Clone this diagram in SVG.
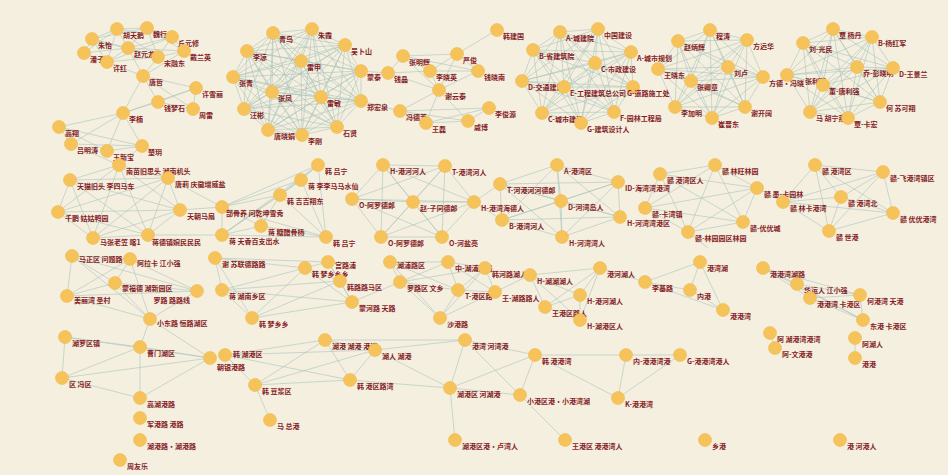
<svg xmlns="http://www.w3.org/2000/svg" width="948" height="475" viewBox="0 0 948 475">
<style>
.bg{fill:#f4efdf}
.n circle{fill:#f6c35a;stroke:#efb84e;stroke-width:0.6}
.n text{font-family:"Noto Sans CJK SC","Noto Sans",sans-serif;font-size:7px;font-weight:bold;fill:#861c26}
.e path{stroke:#a9c4bd;stroke-width:0.7;fill:none;opacity:0.85}
</style>
<rect class="bg" x="0" y="0" width="948" height="475"/>
<g id="connectors" class="e">
<path d="M117 29 147 28M117 29 92 39M117 29 128 48M117 29 172 37M117 29 158 57M117 29 84 53M117 29 107 62M147 28 172 37M147 28 128 48M147 28 158 57M147 28 184 51M147 28 92 39M172 37 184 51M172 37 158 57M172 37 128 48M92 39 84 53M92 39 128 48M92 39 107 62M128 48 84 53M128 48 158 57M128 48 107 62M128 48 184 51M184 51 158 57M84 53 107 62M158 57 107 62M172 37 107 62M92 39 158 57M143 76 128 48M143 76 158 57M143 76 107 62M143 76 184 51M143 76 196 88M143 76 158 102M143 76 193 109M143 76 123 113M196 88 158 102M196 88 193 109M158 102 193 109M158 102 123 113M196 88 123 113M123 113 59 127M123 113 71 144M123 113 107 151M123 113 142 146M59 127 71 144M59 127 107 151M107 151 142 146M71 144 142 146M59 127 142 146M142 146 119 165M71 144 119 165"/>
<path d="M273 33 312 29M273 33 345 45M273 33 247 51M273 33 301 61M273 33 361 71M273 33 233 77M273 33 272 92M273 33 321 97M273 33 361 101M273 33 244 109M273 33 337 127M273 33 268 130M273 33 302 135M312 29 345 45M312 29 247 51M312 29 301 61M312 29 361 71M312 29 233 77M312 29 272 92M312 29 321 97M312 29 361 101M312 29 244 109M312 29 337 127M312 29 268 130M312 29 302 135M345 45 247 51M345 45 301 61M345 45 361 71M345 45 233 77M345 45 272 92M345 45 321 97M345 45 361 101M345 45 244 109M345 45 337 127M345 45 268 130M345 45 302 135M247 51 301 61M247 51 361 71M247 51 233 77M247 51 272 92M247 51 321 97M247 51 361 101M247 51 244 109M247 51 337 127M247 51 268 130M247 51 302 135M301 61 361 71M301 61 233 77M301 61 272 92M301 61 321 97M301 61 361 101M301 61 244 109M301 61 337 127M301 61 268 130M301 61 302 135M361 71 233 77M361 71 272 92M361 71 321 97M361 71 361 101M361 71 244 109M361 71 337 127M361 71 268 130M361 71 302 135M233 77 272 92M233 77 321 97M233 77 361 101M233 77 244 109M233 77 337 127M233 77 268 130M233 77 302 135M272 92 321 97M272 92 361 101M272 92 244 109M272 92 337 127M272 92 268 130M272 92 302 135M321 97 361 101M321 97 244 109M321 97 337 127M321 97 268 130M321 97 302 135M361 101 244 109M361 101 337 127M361 101 268 130M361 101 302 135M244 109 337 127M244 109 268 130M244 109 302 135M337 127 268 130M337 127 302 135M268 130 302 135M361 71 388 73M361 101 400 111"/>
<path d="M497 30 457 54M403 56 457 54M403 56 388 73M403 56 430 71M403 56 478 71M457 54 430 71M457 54 478 71M457 54 439 90M388 73 430 71M388 73 439 90M430 71 478 71M430 71 439 90M478 71 439 90M439 90 400 111M439 90 426 123M439 90 468 121M400 111 426 123M400 111 468 121M400 111 489 108M489 108 426 123M489 108 468 121M426 123 468 121M403 56 439 90"/>
<path d="M560 32 598 29M560 32 533 50M560 32 631 52M560 32 595 63M560 32 522 81M560 32 564 87M560 32 633 87M560 32 542 113M560 32 614 112M560 32 581 123M598 29 533 50M598 29 631 52M598 29 595 63M598 29 522 81M598 29 564 87M598 29 633 87M598 29 542 113M598 29 614 112M598 29 581 123M533 50 631 52M533 50 595 63M533 50 522 81M533 50 564 87M533 50 633 87M533 50 542 113M533 50 614 112M533 50 581 123M631 52 595 63M631 52 522 81M631 52 564 87M631 52 633 87M631 52 542 113M631 52 614 112M631 52 581 123M595 63 522 81M595 63 564 87M595 63 633 87M595 63 542 113M595 63 614 112M595 63 581 123M522 81 564 87M522 81 633 87M522 81 542 113M522 81 614 112M522 81 581 123M564 87 633 87M564 87 542 113M564 87 614 112M564 87 581 123M633 87 542 113M633 87 614 112M633 87 581 123M542 113 614 112M542 113 581 123M614 112 581 123"/>
<path d="M710 30 678 41M710 30 747 40M710 30 658 69M710 30 728 67M710 30 763 77M710 30 691 81M710 30 675 107M710 30 745 107M710 30 712 118M678 41 747 40M678 41 658 69M678 41 728 67M678 41 763 77M678 41 691 81M678 41 675 107M678 41 745 107M678 41 712 118M747 40 658 69M747 40 728 67M747 40 763 77M747 40 691 81M747 40 675 107M747 40 745 107M747 40 712 118M658 69 728 67M658 69 763 77M658 69 691 81M658 69 675 107M658 69 745 107M658 69 712 118M728 67 763 77M728 67 691 81M728 67 675 107M728 67 745 107M728 67 712 118M763 77 691 81M763 77 675 107M763 77 745 107M763 77 712 118M691 81 675 107M691 81 745 107M691 81 712 118M675 107 745 107M675 107 712 118M745 107 712 118"/>
<path d="M833 29 872 37M833 29 803 43M833 29 857 67M833 29 893 68M833 29 787 75M833 29 823 85M833 29 880 102M833 29 810 112M833 29 848 118M872 37 803 43M872 37 857 67M872 37 893 68M872 37 787 75M872 37 823 85M872 37 880 102M872 37 810 112M872 37 848 118M803 43 857 67M803 43 893 68M803 43 787 75M803 43 823 85M803 43 880 102M803 43 810 112M803 43 848 118M857 67 893 68M857 67 787 75M857 67 823 85M857 67 880 102M857 67 810 112M857 67 848 118M893 68 787 75M893 68 823 85M893 68 880 102M893 68 810 112M893 68 848 118M787 75 823 85M787 75 880 102M787 75 810 112M787 75 848 118M823 85 880 102M823 85 810 112M823 85 848 118M880 102 810 112M880 102 848 118M810 112 848 118"/>
<path d="M119 165 70 180M119 165 168 178M119 165 58 212M119 165 180 210M119 165 93 238M119 165 148 235M70 180 168 178M70 180 58 212M70 180 180 210M70 180 148 235M70 180 93 238M168 178 58 212M168 178 180 210M168 178 93 238M168 178 148 235M58 212 93 238M58 212 148 235M58 212 180 210M180 210 93 238M180 210 148 235M93 238 148 235M180 210 222 207M148 235 222 235M168 178 222 207"/>
<path d="M318 165 301 180M318 165 280 195M318 165 222 207M301 180 280 195M301 180 222 207M280 195 222 207M280 195 222 235M301 180 222 235M318 165 222 235M222 207 261 226M222 207 222 235M261 226 222 235M261 226 326 237M222 207 326 237M222 235 326 237M301 180 326 237M318 165 326 237M280 195 326 237M280 195 261 226"/>
<path d="M383 165 445 166M383 165 352 199M383 165 413 202M383 165 474 202M383 165 381 237M383 165 442 237M445 166 352 199M445 166 413 202M445 166 474 202M445 166 381 237M445 166 442 237M352 199 413 202M352 199 474 202M352 199 381 237M352 199 442 237M413 202 474 202M413 202 381 237M413 202 442 237M474 202 381 237M474 202 442 237M381 237 442 237M474 202 500 184M474 202 502 220"/>
<path d="M557 165 500 184M557 165 561 201M557 165 618 182M557 165 502 220M557 165 620 217M557 165 562 237M500 184 561 201M500 184 618 182M500 184 502 220M500 184 620 217M500 184 562 237M561 201 618 182M561 201 502 220M561 201 620 217M561 201 562 237M618 182 502 220M618 182 620 217M618 182 562 237M502 220 620 217M502 220 562 237M620 217 562 237"/>
<path d="M715 165 660 174M715 165 757 188M715 165 645 208M715 165 743 222M715 165 688 232M660 174 757 188M660 174 645 208M660 174 743 222M660 174 688 232M757 188 645 208M757 188 743 222M757 188 688 232M645 208 743 222M645 208 688 232M743 222 688 232M757 188 783 202M688 232 708 248"/>
<path d="M815 165 883 172M815 165 783 202M815 165 841 197M815 165 893 213M815 165 829 231M883 172 783 202M883 172 841 197M883 172 893 213M883 172 829 231M783 202 841 197M783 202 893 213M783 202 829 231M841 197 893 213M841 197 829 231M893 213 829 231"/>
<path d="M72 256 130 259M72 256 115 283M72 256 67 296M72 256 197 291M72 256 150 319M130 259 115 283M130 259 67 296M130 259 197 291M130 259 150 319M115 283 67 296M115 283 197 291M115 283 150 319M67 296 197 291M67 296 150 319M197 291 150 319M150 319 140 347M150 319 210 358"/>
<path d="M215 258 222 290M215 258 252 318M215 258 305 268M215 258 328 262M222 290 252 318M222 290 305 268M222 290 340 281M252 318 305 268M252 318 352 302M305 268 328 262M305 268 340 281M305 268 352 302M328 262 340 281M328 262 352 302M340 281 352 302M252 318 340 281M222 290 352 302"/>
<path d="M390 262 400 282M390 262 448 262M390 262 458 290M390 262 440 318M400 282 448 262M400 282 485 268M400 282 458 290M400 282 440 318M448 262 485 268M448 262 458 290M448 262 495 292M485 268 458 290M485 268 495 292M485 268 440 318M458 290 495 292M458 290 440 318M495 292 440 318M352 302 400 282"/>
<path d="M530 275 545 307M530 275 580 295M530 275 600 268M530 275 580 320M545 307 580 295M545 307 600 268M545 307 580 320M580 295 600 268M580 295 580 320M600 268 580 320M495 292 530 275"/>
<path d="M645 282 690 290M645 282 723 310M645 282 700 262M690 290 723 310M690 290 700 262M723 310 700 262M600 268 645 282"/>
<path d="M763 268 797 284M763 268 810 298M763 268 860 295M763 268 863 320M797 284 810 298M797 284 860 295M797 284 863 320M810 298 860 295M810 298 863 320M860 295 863 320"/>
<path d="M65 337 140 347M65 337 62 378M65 337 210 358M140 347 62 378M140 347 210 358M62 378 210 358M140 347 140 398M210 358 140 398M62 378 140 398"/>
<path d="M225 355 255 385M225 355 325 340M225 355 375 350M225 355 350 380M255 385 325 340M255 385 375 350M255 385 350 380M325 340 375 350M325 340 350 380M375 350 350 380M255 385 270 420M375 350 465 340M375 350 450 388M350 380 450 388M325 340 465 340"/>
<path d="M465 340 450 388M465 340 535 355M465 340 520 395M450 388 535 355M450 388 520 395M535 355 520 395M450 388 455 440M520 395 565 440M535 355 626 355M535 355 618 398"/>
<path d="M626 355 680 355M626 355 618 398M680 355 618 398M770 333 775 348M855 338 855 358"/>
</g>
<g id="n_a1" class="n"><circle cx="117" cy="29" r="6.5"/><text x="123" y="38">胡天鹅</text></g>
<g id="n_a2" class="n"><circle cx="147" cy="28" r="6.5"/><text x="153" y="37">魏行</text></g>
<g id="n_a3" class="n"><circle cx="172" cy="37" r="6.5"/><text x="178" y="46">丘元修</text></g>
<g id="n_a4" class="n"><circle cx="92" cy="39" r="6.5"/><text x="98" y="48">朱怡</text></g>
<g id="n_a5" class="n"><circle cx="128" cy="48" r="6.5"/><text x="134" y="57">赵元龙</text></g>
<g id="n_a6" class="n"><circle cx="184" cy="51" r="6.5"/><text x="190" y="60">戴兰英</text></g>
<g id="n_a7" class="n"><circle cx="84" cy="53" r="6.5"/><text x="90" y="62">潘子</text></g>
<g id="n_a8" class="n"><circle cx="158" cy="57" r="6.5"/><text x="164" y="66">宋融东</text></g>
<g id="n_a9" class="n"><circle cx="107" cy="62" r="6.5"/><text x="113" y="71">许红</text></g>
<g id="n_a10" class="n"><circle cx="143" cy="76" r="6.5"/><text x="149" y="85">唐哲</text></g>
<g id="n_a11" class="n"><circle cx="196" cy="88" r="6.5"/><text x="202" y="97">许雪丽</text></g>
<g id="n_a12" class="n"><circle cx="158" cy="102" r="6.5"/><text x="164" y="111">钱梦石</text></g>
<g id="n_a13" class="n"><circle cx="193" cy="109" r="6.5"/><text x="199" y="118">周雷</text></g>
<g id="n_a14" class="n"><circle cx="123" cy="113" r="6.5"/><text x="129" y="122">李楠</text></g>
<g id="n_a15" class="n"><circle cx="59" cy="127" r="6.5"/><text x="65" y="136">高翔</text></g>
<g id="n_g1" class="n"><circle cx="71" cy="144" r="6.5"/><text x="77" y="153">吕明涛</text></g>
<g id="n_g2" class="n"><circle cx="107" cy="151" r="6.5"/><text x="113" y="160">王新宝</text></g>
<g id="n_g3" class="n"><circle cx="142" cy="146" r="6.5"/><text x="148" y="155">楚玥</text></g>
<g id="n_b1" class="n"><circle cx="273" cy="33" r="6.5"/><text x="279" y="42">青鸟</text></g>
<g id="n_b2" class="n"><circle cx="312" cy="29" r="6.5"/><text x="318" y="38">朱霞</text></g>
<g id="n_b3" class="n"><circle cx="345" cy="45" r="6.5"/><text x="351" y="54">吴卜山</text></g>
<g id="n_b4" class="n"><circle cx="247" cy="51" r="6.5"/><text x="253" y="60">李凉</text></g>
<g id="n_b5" class="n"><circle cx="301" cy="61" r="6.5"/><text x="307" y="70">雷申</text></g>
<g id="n_b6" class="n"><circle cx="361" cy="71" r="6.5"/><text x="367" y="80">蒙泰</text></g>
<g id="n_b7" class="n"><circle cx="233" cy="77" r="6.5"/><text x="239" y="86">张青</text></g>
<g id="n_b8" class="n"><circle cx="272" cy="92" r="6.5"/><text x="278" y="101">张凤</text></g>
<g id="n_b9" class="n"><circle cx="321" cy="97" r="6.5"/><text x="327" y="106">雷敏</text></g>
<g id="n_b10" class="n"><circle cx="361" cy="101" r="6.5"/><text x="367" y="110">郑宏泉</text></g>
<g id="n_b11" class="n"><circle cx="244" cy="109" r="6.5"/><text x="250" y="118">汪彬</text></g>
<g id="n_b12" class="n"><circle cx="337" cy="127" r="6.5"/><text x="343" y="136">石贤</text></g>
<g id="n_b13" class="n"><circle cx="268" cy="130" r="6.5"/><text x="274" y="139">唐晓娟</text></g>
<g id="n_b14" class="n"><circle cx="302" cy="135" r="6.5"/><text x="308" y="144">李刚</text></g>
<g id="n_c1" class="n"><circle cx="497" cy="30" r="6.5"/><text x="503" y="39">韩建国</text></g>
<g id="n_c2" class="n"><circle cx="403" cy="56" r="6.5"/><text x="409" y="65">张明辉</text></g>
<g id="n_c3" class="n"><circle cx="457" cy="54" r="6.5"/><text x="463" y="63">严俊</text></g>
<g id="n_c4" class="n"><circle cx="388" cy="73" r="6.5"/><text x="394" y="82">钱晶</text></g>
<g id="n_c5" class="n"><circle cx="430" cy="71" r="6.5"/><text x="436" y="80">李晓英</text></g>
<g id="n_c6" class="n"><circle cx="478" cy="71" r="6.5"/><text x="484" y="80">钱晓南</text></g>
<g id="n_c7" class="n"><circle cx="439" cy="90" r="6.5"/><text x="445" y="99">谢云泰</text></g>
<g id="n_c8" class="n"><circle cx="400" cy="111" r="6.5"/><text x="406" y="120">冯德芳</text></g>
<g id="n_c9" class="n"><circle cx="489" cy="108" r="6.5"/><text x="495" y="117">李俊源</text></g>
<g id="n_c10" class="n"><circle cx="426" cy="123" r="6.5"/><text x="432" y="132">王磊</text></g>
<g id="n_c11" class="n"><circle cx="468" cy="121" r="6.5"/><text x="474" y="130">戚博</text></g>
<g id="n_d1" class="n"><circle cx="560" cy="32" r="6.5"/><text x="566" y="41">A-城建院</text></g>
<g id="n_d2" class="n"><circle cx="598" cy="29" r="6.5"/><text x="604" y="38">中国建设</text></g>
<g id="n_d3" class="n"><circle cx="533" cy="50" r="6.5"/><text x="539" y="59">B-省建筑院</text></g>
<g id="n_d4" class="n"><circle cx="631" cy="52" r="6.5"/><text x="637" y="61">A-城市规划</text></g>
<g id="n_d5" class="n"><circle cx="595" cy="63" r="6.5"/><text x="601" y="72">C-市政建设</text></g>
<g id="n_d6" class="n"><circle cx="522" cy="81" r="6.5"/><text x="528" y="90">D-交通建设</text></g>
<g id="n_d7" class="n"><circle cx="564" cy="87" r="6.5"/><text x="570" y="96">E-工程建筑总公司</text></g>
<g id="n_d8" class="n"><circle cx="633" cy="87" r="6.5"/><text x="627" y="96">G-道路施工处</text></g>
<g id="n_d9" class="n"><circle cx="542" cy="113" r="6.5"/><text x="548" y="122">C-城市建设</text></g>
<g id="n_d10" class="n"><circle cx="614" cy="112" r="6.5"/><text x="620" y="121">F-园林工程局</text></g>
<g id="n_d11" class="n"><circle cx="581" cy="123" r="6.5"/><text x="587" y="132">G-建筑设计人</text></g>
<g id="n_e1" class="n"><circle cx="710" cy="30" r="6.5"/><text x="716" y="39">程涛</text></g>
<g id="n_e2" class="n"><circle cx="678" cy="41" r="6.5"/><text x="684" y="50">赵炳辉</text></g>
<g id="n_e3" class="n"><circle cx="747" cy="40" r="6.5"/><text x="753" y="49">方远华</text></g>
<g id="n_e4" class="n"><circle cx="658" cy="69" r="6.5"/><text x="664" y="78">王晓东</text></g>
<g id="n_e5" class="n"><circle cx="728" cy="67" r="6.5"/><text x="734" y="76">刘卢</text></g>
<g id="n_e6" class="n"><circle cx="763" cy="77" r="6.5"/><text x="769" y="86">方德·冯晓</text></g>
<g id="n_e7" class="n"><circle cx="691" cy="81" r="6.5"/><text x="697" y="90">张卿章</text></g>
<g id="n_e8" class="n"><circle cx="675" cy="107" r="6.5"/><text x="681" y="116">李加明</text></g>
<g id="n_e9" class="n"><circle cx="745" cy="107" r="6.5"/><text x="751" y="116">谢开阔</text></g>
<g id="n_e10" class="n"><circle cx="712" cy="118" r="6.5"/><text x="718" y="127">崔晋东</text></g>
<g id="n_f1" class="n"><circle cx="833" cy="29" r="6.5"/><text x="839" y="38">覃 杨丹</text></g>
<g id="n_f2" class="n"><circle cx="872" cy="37" r="6.5"/><text x="878" y="46">B-杨红军</text></g>
<g id="n_f3" class="n"><circle cx="803" cy="43" r="6.5"/><text x="809" y="52">刘-光民</text></g>
<g id="n_f4" class="n"><circle cx="857" cy="67" r="6.5"/><text x="863" y="76">乔-彭晓明</text></g>
<g id="n_f5" class="n"><circle cx="893" cy="68" r="6.5"/><text x="899" y="77">D-王景兰</text></g>
<g id="n_f6" class="n"><circle cx="787" cy="75" r="6.5"/><text x="805" y="84">张利燕</text></g>
<g id="n_f7" class="n"><circle cx="823" cy="85" r="6.5"/><text x="829" y="94">董-唐利强</text></g>
<g id="n_f8" class="n"><circle cx="880" cy="102" r="6.5"/><text x="886" y="111">何 苏可翔</text></g>
<g id="n_f9" class="n"><circle cx="810" cy="112" r="6.5"/><text x="816" y="121">马 胡宁燕</text></g>
<g id="n_f10" class="n"><circle cx="848" cy="118" r="6.5"/><text x="854" y="127">覃-卡宏</text></g>
<g id="n_g4" class="n"><circle cx="119" cy="165" r="6.5"/><text x="126" y="174">南苗旧思头 湖南机头</text></g>
<g id="n_g5" class="n"><circle cx="70" cy="180" r="6.5"/><text x="77" y="189">天猫旧头 李四马车</text></g>
<g id="n_g6" class="n"><circle cx="168" cy="178" r="6.5"/><text x="175" y="187">唐莉 庆徽增威盐</text></g>
<g id="n_g7" class="n"><circle cx="58" cy="212" r="6.5"/><text x="65" y="221">千鹏 姑姑鸭园</text></g>
<g id="n_g8" class="n"><circle cx="180" cy="210" r="6.5"/><text x="187" y="219">天朝马扇</text></g>
<g id="n_g9" class="n"><circle cx="93" cy="238" r="6.5"/><text x="100" y="245">马张老笠 喀1</text></g>
<g id="n_g10" class="n"><circle cx="148" cy="235" r="6.5"/><text x="152" y="245">蒋德镇婉民民民</text></g>
<g id="n_h1" class="n"><circle cx="318" cy="165" r="6.5"/><text x="325" y="174">韩 吕宁</text></g>
<g id="n_h2" class="n"><circle cx="301" cy="180" r="6.5"/><text x="308" y="189">蒋 李李马马水仙</text></g>
<g id="n_h3" class="n"><circle cx="280" cy="195" r="6.5"/><text x="287" y="204">韩 吉吉翔东</text></g>
<g id="n_h4" class="n"><circle cx="222" cy="207" r="6.5"/><text x="226" y="216">部骨养 问乾坤雪秀</text></g>
<g id="n_h5" class="n"><circle cx="261" cy="226" r="6.5"/><text x="268" y="235">蒋 糖醋骨杨</text></g>
<g id="n_h6" class="n"><circle cx="222" cy="235" r="6.5"/><text x="229" y="244">蒋 天香百支出水</text></g>
<g id="n_h7" class="n"><circle cx="326" cy="237" r="6.5"/><text x="333" y="246">韩 吕宁</text></g>
<g id="n_i1" class="n"><circle cx="383" cy="165" r="6.5"/><text x="390" y="174">H-港河河人</text></g>
<g id="n_i2" class="n"><circle cx="445" cy="166" r="6.5"/><text x="452" y="175">T-港湾河人</text></g>
<g id="n_i3" class="n"><circle cx="352" cy="199" r="6.5"/><text x="359" y="208">O-阿罗德郎</text></g>
<g id="n_i4" class="n"><circle cx="413" cy="202" r="6.5"/><text x="420" y="211">赵-子同德郎</text></g>
<g id="n_i5" class="n"><circle cx="474" cy="202" r="6.5"/><text x="481" y="211">H-港湾海德人</text></g>
<g id="n_i6" class="n"><circle cx="381" cy="237" r="6.5"/><text x="388" y="246">O-阿罗德郎</text></g>
<g id="n_i7" class="n"><circle cx="442" cy="237" r="6.5"/><text x="449" y="246">O-河盐亮</text></g>
<g id="n_j1" class="n"><circle cx="557" cy="165" r="6.5"/><text x="564" y="174">A-港湾区</text></g>
<g id="n_j2" class="n"><circle cx="500" cy="184" r="6.5"/><text x="507" y="193">T-河港河河德郎</text></g>
<g id="n_j3" class="n"><circle cx="561" cy="201" r="6.5"/><text x="568" y="210">D-河湾岛人</text></g>
<g id="n_j4" class="n"><circle cx="618" cy="182" r="6.5"/><text x="625" y="191">ID-海湾湾港湾</text></g>
<g id="n_j5" class="n"><circle cx="502" cy="220" r="6.5"/><text x="509" y="229">B-港湾河人</text></g>
<g id="n_j6" class="n"><circle cx="620" cy="217" r="6.5"/><text x="627" y="226">H-河湾湾港区</text></g>
<g id="n_j7" class="n"><circle cx="562" cy="237" r="6.5"/><text x="569" y="246">H-河湾湾人</text></g>
<g id="n_k1" class="n"><circle cx="715" cy="165" r="6.5"/><text x="722" y="174">赣 林旺林园</text></g>
<g id="n_k2" class="n"><circle cx="660" cy="174" r="6.5"/><text x="667" y="183">赣 港湾区人</text></g>
<g id="n_k3" class="n"><circle cx="757" cy="188" r="6.5"/><text x="764" y="197">赣 墨-卡园林</text></g>
<g id="n_k4" class="n"><circle cx="645" cy="208" r="6.5"/><text x="652" y="217">赣-卡湾镇</text></g>
<g id="n_k5" class="n"><circle cx="743" cy="222" r="6.5"/><text x="750" y="231">赣-优优城</text></g>
<g id="n_k6" class="n"><circle cx="688" cy="232" r="6.5"/><text x="695" y="241">赣-林园园区林园</text></g>
<g id="n_l1" class="n"><circle cx="815" cy="165" r="6.5"/><text x="822" y="174">赣 港湾区</text></g>
<g id="n_l2" class="n"><circle cx="883" cy="172" r="6.5"/><text x="890" y="181">赣-飞港湾镇区</text></g>
<g id="n_l3" class="n"><circle cx="783" cy="202" r="6.5"/><text x="790" y="211">赣 林卡港湾</text></g>
<g id="n_l4" class="n"><circle cx="841" cy="197" r="6.5"/><text x="848" y="206">赣 港湾北</text></g>
<g id="n_l5" class="n"><circle cx="893" cy="213" r="6.5"/><text x="900" y="222">赣 优优港湾</text></g>
<g id="n_l6" class="n"><circle cx="829" cy="231" r="6.5"/><text x="836" y="240">赣 世港</text></g>
<g id="n_m1" class="n"><circle cx="72" cy="256" r="6.5"/><text x="79" y="262">马正区 问题路</text></g>
<g id="n_m2" class="n"><circle cx="130" cy="259" r="6.5"/><text x="137" y="266">阿拉卡 江小强</text></g>
<g id="n_m3" class="n"><circle cx="115" cy="283" r="6.5"/><text x="122" y="291">蒙福德 湖新园区</text></g>
<g id="n_m4" class="n"><circle cx="67" cy="296" r="6.5"/><text x="74" y="303">美丽湾 圣村</text></g>
<g id="n_m5" class="n"><circle cx="197" cy="291" r="6.5"/><text x="190" y="303" text-anchor="end">罗路 路路线</text></g>
<g id="n_m6" class="n"><circle cx="150" cy="319" r="6.5"/><text x="157" y="326">小东路 恒路湖区</text></g>
<g id="n_o1" class="n"><circle cx="215" cy="258" r="6.5"/><text x="222" y="267">谢 苏联德路路</text></g>
<g id="n_o2" class="n"><circle cx="222" cy="290" r="6.5"/><text x="229" y="299">蒋 湖南乡区</text></g>
<g id="n_o3" class="n"><circle cx="252" cy="318" r="6.5"/><text x="259" y="327">韩 梦乡乡</text></g>
<g id="n_o4" class="n"><circle cx="305" cy="268" r="6.5"/><text x="312" y="277">韩 梦乡乡乡</text></g>
<g id="n_o5" class="n"><circle cx="328" cy="262" r="6.5"/><text x="335" y="268">宫路浦</text></g>
<g id="n_o6" class="n"><circle cx="340" cy="281" r="6.5"/><text x="347" y="290">韩路路马区</text></g>
<g id="n_o7" class="n"><circle cx="352" cy="302" r="6.5"/><text x="359" y="311">蒙河路 天路</text></g>
<g id="n_p1" class="n"><circle cx="390" cy="262" r="6.5"/><text x="397" y="268">湖浦路区</text></g>
<g id="n_p2" class="n"><circle cx="400" cy="282" r="6.5"/><text x="407" y="291">罗路区 文乡</text></g>
<g id="n_p3" class="n"><circle cx="448" cy="262" r="6.5"/><text x="455" y="271">中-湖浦路路</text></g>
<g id="n_p4" class="n"><circle cx="485" cy="268" r="6.5"/><text x="492" y="277">韩河路湖人</text></g>
<g id="n_p5" class="n"><circle cx="458" cy="290" r="6.5"/><text x="465" y="299">T-港区路</text></g>
<g id="n_p6" class="n"><circle cx="495" cy="292" r="6.5"/><text x="502" y="301">王-湖路路人</text></g>
<g id="n_p7" class="n"><circle cx="440" cy="318" r="6.5"/><text x="447" y="327">沙港路</text></g>
<g id="n_q1" class="n"><circle cx="530" cy="275" r="6.5"/><text x="537" y="284">H-湖湖湖人</text></g>
<g id="n_q2" class="n"><circle cx="545" cy="307" r="6.5"/><text x="552" y="316">王港区路人</text></g>
<g id="n_q3" class="n"><circle cx="580" cy="295" r="6.5"/><text x="587" y="304">H-港河湖人</text></g>
<g id="n_q4" class="n"><circle cx="600" cy="268" r="6.5"/><text x="607" y="277">港河湖人</text></g>
<g id="n_q5" class="n"><circle cx="580" cy="320" r="6.5"/><text x="587" y="329">H-湖港区人</text></g>
<g id="n_r1" class="n"><circle cx="645" cy="282" r="6.5"/><text x="652" y="291">李基路</text></g>
<g id="n_r2" class="n"><circle cx="690" cy="290" r="6.5"/><text x="697" y="299">内港</text></g>
<g id="n_r3" class="n"><circle cx="723" cy="310" r="6.5"/><text x="730" y="319">港港湾</text></g>
<g id="n_r4" class="n"><circle cx="700" cy="262" r="6.5"/><text x="707" y="271">港湾湖</text></g>
<g id="n_s1" class="n"><circle cx="763" cy="268" r="6.5"/><text x="770" y="277">港港湾湖路</text></g>
<g id="n_s2" class="n"><circle cx="797" cy="284" r="6.5"/><text x="804" y="293">华运人 江小强</text></g>
<g id="n_s3" class="n"><circle cx="810" cy="298" r="6.5"/><text x="817" y="307">港港湾 卡港区</text></g>
<g id="n_s4" class="n"><circle cx="860" cy="295" r="6.5"/><text x="867" y="304">何港湾 天港</text></g>
<g id="n_s5" class="n"><circle cx="863" cy="320" r="6.5"/><text x="870" y="329">东港 卡港区</text></g>
<g id="n_n1" class="n"><circle cx="65" cy="337" r="6.5"/><text x="72" y="346">湖罗区镇</text></g>
<g id="n_n2" class="n"><circle cx="140" cy="347" r="6.5"/><text x="147" y="356">曹门湖区</text></g>
<g id="n_n3" class="n"><circle cx="62" cy="378" r="6.5"/><text x="69" y="387">区 冯区</text></g>
<g id="n_n4" class="n"><circle cx="210" cy="358" r="6.5"/><text x="217" y="370">朝银港路</text></g>
<g id="n_n5" class="n"><circle cx="140" cy="398" r="6.5"/><text x="147" y="407">高湖港路</text></g>
<g id="n_n6" class="n"><circle cx="140" cy="418" r="6.5"/><text x="147" y="427">军港路 港路</text></g>
<g id="n_n7" class="n"><circle cx="140" cy="440" r="6.5"/><text x="147" y="449">湖港路·湖港路</text></g>
<g id="n_n8" class="n"><circle cx="120" cy="460" r="6.5"/><text x="127" y="469">周友乐</text></g>
<g id="n_t1" class="n"><circle cx="225" cy="355" r="6.5"/><text x="233" y="357">韩 湖港区</text></g>
<g id="n_t2" class="n"><circle cx="255" cy="385" r="6.5"/><text x="262" y="394">韩 豆浆区</text></g>
<g id="n_t3" class="n"><circle cx="325" cy="340" r="6.5"/><text x="332" y="349">湖港 湖港 港湾</text></g>
<g id="n_t4" class="n"><circle cx="375" cy="350" r="6.5"/><text x="382" y="359">湖人 湖港</text></g>
<g id="n_t5" class="n"><circle cx="350" cy="380" r="6.5"/><text x="357" y="389">韩 港区路湾</text></g>
<g id="n_t6" class="n"><circle cx="270" cy="420" r="6.5"/><text x="277" y="429">马 总港</text></g>
<g id="n_t7" class="n"><circle cx="450" cy="388" r="6.5"/><text x="457" y="397">湖港区 河湖港</text></g>
<g id="n_t8" class="n"><circle cx="465" cy="340" r="6.5"/><text x="472" y="349">港湾 河湾港</text></g>
<g id="n_t9" class="n"><circle cx="535" cy="355" r="6.5"/><text x="542" y="364">韩 港港湾</text></g>
<g id="n_t10" class="n"><circle cx="520" cy="395" r="6.5"/><text x="527" y="404">小港区港·小港湾湖</text></g>
<g id="n_t11" class="n"><circle cx="455" cy="440" r="6.5"/><text x="462" y="449">湖港区港·卢湾人</text></g>
<g id="n_t12" class="n"><circle cx="565" cy="440" r="6.5"/><text x="572" y="449">王港区 港港湾人</text></g>
<g id="n_t13" class="n"><circle cx="626" cy="355" r="6.5"/><text x="633" y="364">内-港港湾港</text></g>
<g id="n_t14" class="n"><circle cx="680" cy="355" r="6.5"/><text x="687" y="364">G-港港湾港人</text></g>
<g id="n_t15" class="n"><circle cx="618" cy="398" r="6.5"/><text x="625" y="407">K-港港湾</text></g>
<g id="n_t16" class="n"><circle cx="705" cy="440" r="6.5"/><text x="712" y="449">乡港</text></g>
<g id="n_t17" class="n"><circle cx="770" cy="333" r="6.5"/><text x="777" y="342">阿 湖港湾港湾</text></g>
<g id="n_t18" class="n"><circle cx="775" cy="348" r="6.5"/><text x="782" y="357">阿-文港港</text></g>
<g id="n_t19" class="n"><circle cx="855" cy="338" r="6.5"/><text x="862" y="347">阿湖人</text></g>
<g id="n_t20" class="n"><circle cx="855" cy="358" r="6.5"/><text x="862" y="367">港港</text></g>
<g id="n_t21" class="n"><circle cx="840" cy="440" r="6.5"/><text x="847" y="449">港 河港人</text></g>
</svg>
